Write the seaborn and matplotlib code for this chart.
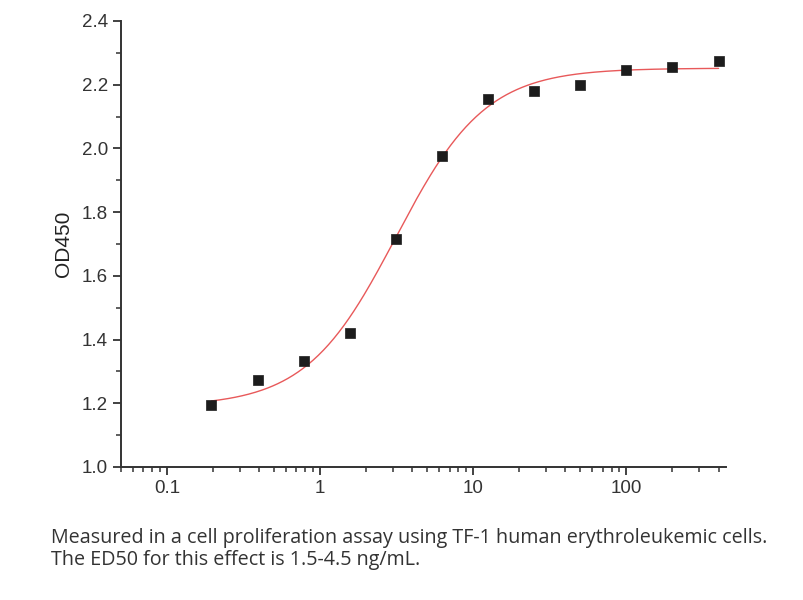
import numpy as np
import pandas as pd
import matplotlib
matplotlib.use("Agg")
import matplotlib.pyplot as plt
import matplotlib.ticker as mticker
import seaborn as sns

# measured points (ng/mL vs OD450)
conc = [0.195, 0.39, 0.78, 1.5625, 3.125, 6.25, 12.5, 25, 50, 100, 200, 400]
od450 = [1.195, 1.273, 1.333, 1.42, 1.716, 1.976, 2.155, 2.18, 2.2, 2.246, 2.255, 2.274]

# 4-parameter logistic fit
fit_bottom = 1.19
fit_top = 2.252
fit_ec50 = 3.12
fit_hill = 1.48

caption = ("Measured in a cell proliferation assay using TF-1 human erythroleukemic cells.\n"
           "The ED50 for this effect is 1.5-4.5 ng/mL.")

sns.set_style("ticks")
plt.rcParams['font.family'] = ['Liberation Sans', 'DejaVu Sans']

points = pd.DataFrame({"conc": conc, "od": od450})
xs = np.logspace(np.log10(conc[0]), np.log10(conc[-1]), 300)
curve = pd.DataFrame({
    "conc": xs,
    "od": fit_bottom + (fit_top - fit_bottom) / (1 + (fit_ec50 / xs) ** fit_hill),
})

fig = plt.figure(figsize=(8.04, 6.0), dpi=100)
ax = fig.add_axes([0.1505, 0.2217, 0.753, 0.7433])

sns.lineplot(data=curve, x="conc", y="od", ax=ax, color="#e8595a", linewidth=1.0)
sns.scatterplot(data=points, x="conc", y="od", ax=ax, marker="s", s=60,
                color="#1c1c1c", edgecolor="#1c1c1c", linewidth=0.5, zorder=3)

ax.set_xscale("log")
ax.set_xlim(0.05, 450)
ax.set_ylim(1.0, 2.4)
ax.yaxis.set_major_locator(mticker.MultipleLocator(0.2))
ax.yaxis.set_minor_locator(mticker.MultipleLocator(0.1))
ax.yaxis.set_major_formatter(mticker.FormatStrFormatter("%.1f"))
ax.xaxis.set_major_locator(mticker.FixedLocator([0.1, 1, 10, 100]))
ax.xaxis.set_major_formatter(mticker.FixedFormatter(["0.1", "1", "10", "100"]))
ax.xaxis.set_minor_locator(mticker.LogLocator(base=10, subs=np.arange(2, 10), numticks=20))
ax.xaxis.set_minor_formatter(mticker.NullFormatter())

ax.set_xlabel("")
ax.set_ylabel("OD450", fontsize=15, color="#222222", labelpad=6)
ax.tick_params(axis="both", which="major", length=6, width=1.3, labelsize=13.5,
               colors="#333333", direction="out")
ax.tick_params(axis="both", which="minor", length=3.5, width=1.1, direction="out",
               colors="#333333")
for side in ["left", "bottom"]:
    ax.spines[side].set_linewidth(1.4)
    ax.spines[side].set_color("#333333")
sns.despine(ax=ax)

fig.text(0.064, 0.12, caption, fontsize=14.2, color="#333333", family=["Open Sans", "DejaVu Sans"],
         va="top", linespacing=1.15)

fig.savefig("out.png", dpi=100)
